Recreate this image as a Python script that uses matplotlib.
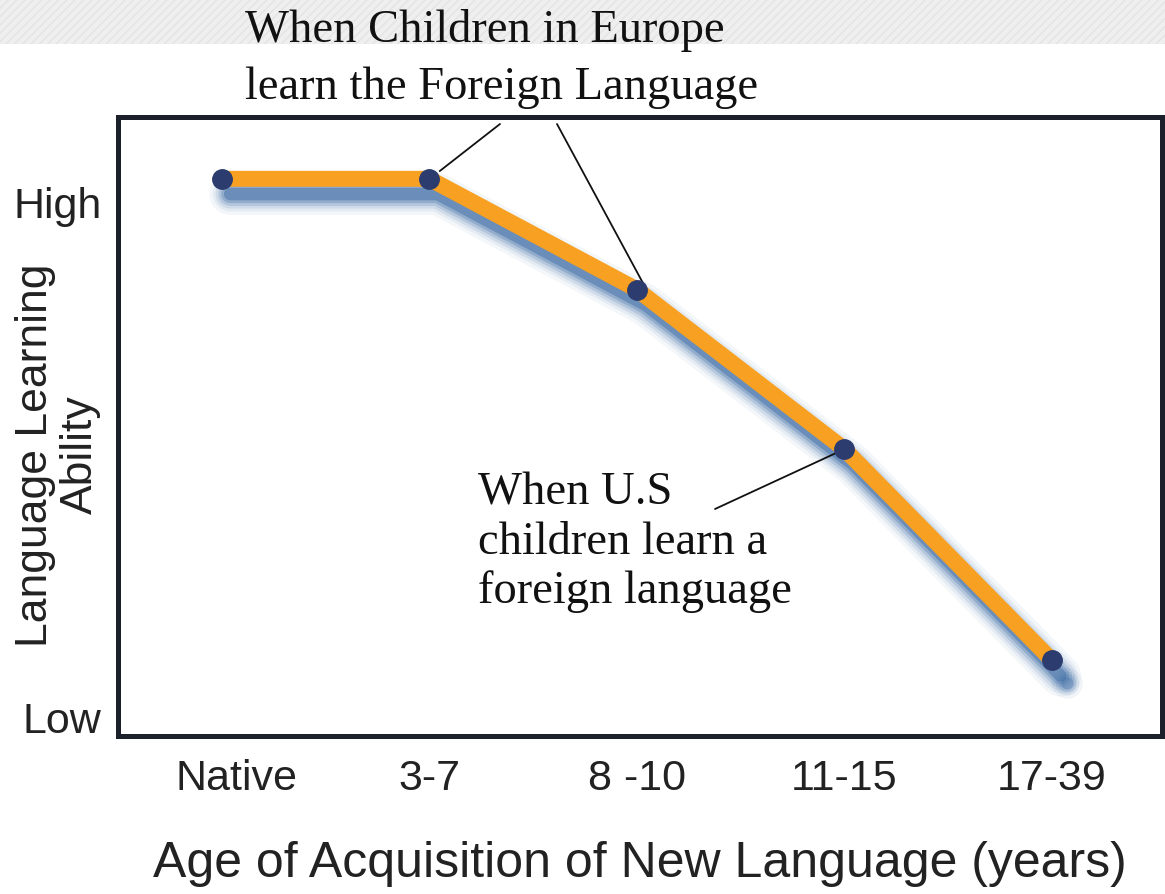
import numpy as np
import matplotlib
matplotlib.use("Agg")
import matplotlib.pyplot as plt
from matplotlib.patches import Rectangle
from matplotlib.transforms import offset_copy, ScaledTranslation

# data
ages = ["Native", "3-7", "8 -10", "11-15", "17-39"]
ability = [1.045, 1.045, 0.83, 0.52, 0.11]
ytick_pos = [0, 1]
ytick_labels = ["Low", "High"]

sans = "Liberation Sans"
serif = "Liberation Serif"

fig = plt.figure(figsize=(11.65, 8.95), dpi=100)

# textured grey strip at the very top
strip = Rectangle((0, 1 - 45/895), 1, 45/895, transform=fig.transFigure,
                  facecolor="#efefef", edgecolor="#e4e4e4", hatch="////",
                  linewidth=0, zorder=0)
fig.patches.append(strip)

ax = fig.add_axes([118/1165, 1 - 737/895, (1162-118)/1165, (737-118)/895])
x = np.arange(len(ages))

# soft blue drop shadow: stacked translucent strokes, shifted down-right
shadow_tr = offset_copy(ax.transData, fig=fig, x=6, y=-11, units="points")
for lw, a in [(30, 0.05), (25, 0.08), (21, 0.12), (17, 0.18), (13, 0.28), (9, 0.45)]:
    ax.plot(x, ability, color="#3a6aa3", linewidth=lw, alpha=a,
            solid_capstyle="round", solid_joinstyle="round",
            transform=shadow_tr, zorder=2)
blob_tr = offset_copy(ax.transData, fig=fig, x=11, y=-16, units="points")
for ms, a in [(22, 0.07), (17, 0.12), (13, 0.2), (9, 0.35)]:
    ax.plot(x[-1:], ability[-1:], "o", markersize=ms, color="#3a6aa3",
            markeredgewidth=0, alpha=a, transform=blob_tr, zorder=2)

ax.plot(x, ability, color="#f7a021", linewidth=11.5, solid_capstyle="butt",
        solid_joinstyle="miter", zorder=3)
ax.plot(x, ability, "o", markersize=14, markerfacecolor="#2c3c6e",
        markeredgecolor="#2c3c6e", zorder=4)

ax.set_xlim(-0.50, 4.53)
ax.set_ylim(-0.037, 1.165)
ax.set_xticks(x)
ax.set_xticklabels(ages, fontsize=31, family=sans, color="#222222")
ax.set_yticks(ytick_pos)
ax.set_yticklabels(ytick_labels, fontsize=31, family=sans, color="#222222")
ax.tick_params(length=0)
ax.tick_params(axis="x", pad=16)
ax.tick_params(axis="y", pad=12)
# nudge "Native" a little right like the original
lab0 = ax.get_xticklabels()[0]
lab0.set_transform(lab0.get_transform() + ScaledTranslation(0.15, 0, fig.dpi_scale_trans))
for s in ax.spines.values():
    s.set_linewidth(3.6)
    s.set_color("#1b202b")

ax.set_xlabel("Age of Acquisition of New Language (years)", fontsize=36,
              family=sans, color="#222222", labelpad=30)
fig.text(58/1165, 1 - 455/895, "Language Learning\nAbility", rotation=90,
         ha="center", va="center", fontsize=32, family=sans, color="#222222",
         linespacing=1.12)

# annotations
fig.text(245/1165, 1 - 30/895, "When Children in Europe", fontsize=33.5,
         family=serif, ha="left", va="center", color="#111111")
fig.text(245/1165, 1 - 88/895, "learn the Foreign Language", fontsize=33.5,
         family=serif, ha="left", va="center", color="#111111")
ax.annotate("", xy=(x[1] + 0.05, ability[1] + 0.015),
            xytext=(500/1165, 1 - 125/895), textcoords="figure fraction",
            arrowprops=dict(arrowstyle="-", color="#111111", lw=1.3,
                            shrinkA=0, shrinkB=0))
ax.annotate("", xy=(x[2] + 0.03, ability[2] + 0.012),
            xytext=(557/1165, 1 - 125/895), textcoords="figure fraction",
            arrowprops=dict(arrowstyle="-", color="#111111", lw=1.3,
                            shrinkA=0, shrinkB=0))
ax.text(1.234, 0.34, "When U.S\nchildren learn a\nforeign language",
        fontsize=33.5, family=serif, ha="left", va="center", color="#111111",
        linespacing=1.2)
ax.annotate("", xy=(x[3], ability[3]), xytext=(715/1165, 1 - 510/895),
            textcoords="figure fraction",
            arrowprops=dict(arrowstyle="-", color="#111111", lw=1.3,
                            shrinkA=0, shrinkB=0))

fig.savefig("out.png", dpi=100)
